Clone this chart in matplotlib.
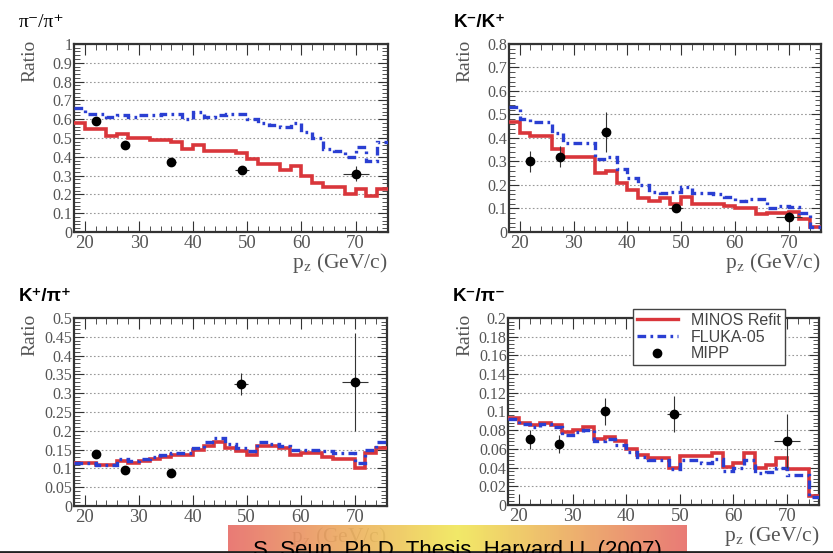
import numpy as np
import matplotlib.pyplot as plt
from matplotlib.ticker import MultipleLocator, AutoMinorLocator, FuncFormatter
from matplotlib.colors import LinearSegmentedColormap
from matplotlib.lines import Line2D

plt.rcParams['font.family'] = ['Liberation Serif', 'DejaVu Serif']
plt.rcParams['mathtext.fontset'] = 'stix'

# 2 GeV/c bins from 18 to 76
edges = [18, 20, 22, 24, 26, 28, 30, 32, 34, 36, 38, 40, 42, 44, 46, 48, 50,
         52, 54, 56, 58, 60, 62, 64, 66, 68, 70, 72, 74, 76]

# pi-/pi+
minos_pipi = [0.58, 0.55, 0.55, 0.51, 0.52, 0.50, 0.50, 0.49, 0.49, 0.48, 0.44, 0.46, 0.43, 0.43, 0.43,
              0.42, 0.39, 0.36, 0.36, 0.33, 0.35, 0.30, 0.26, 0.24, 0.24, 0.20, 0.23, 0.19, 0.23]
fluka_pipi = [0.66, 0.63, 0.63, 0.61, 0.62, 0.61, 0.62, 0.62, 0.63, 0.63, 0.60, 0.64, 0.61, 0.62, 0.63,
              0.63, 0.60, 0.58, 0.57, 0.56, 0.58, 0.53, 0.50, 0.44, 0.43, 0.40, 0.45, 0.38, 0.48]
# K-/K+
minos_kk = [0.47, 0.42, 0.41, 0.41, 0.355, 0.32, 0.32, 0.32, 0.25, 0.26, 0.21, 0.18, 0.145, 0.13, 0.145,
            0.12, 0.15, 0.12, 0.12, 0.12, 0.11, 0.10, 0.10, 0.075, 0.08, 0.08, 0.085, 0.055, 0.02]
fluka_kk = [0.53, 0.48, 0.47, 0.47, 0.42, 0.38, 0.38, 0.38, 0.31, 0.32, 0.27, 0.23, 0.20, 0.17, 0.165,
            0.17, 0.19, 0.165, 0.165, 0.16, 0.15, 0.13, 0.14, 0.14, 0.10, 0.11, 0.105, 0.08, 0.02]
# K+/pi+
minos_kpi = [0.115, 0.115, 0.11, 0.11, 0.12, 0.115, 0.12, 0.125, 0.13, 0.135, 0.135, 0.15, 0.16, 0.17, 0.155,
             0.145, 0.135, 0.16, 0.16, 0.155, 0.135, 0.14, 0.14, 0.13, 0.125, 0.125, 0.10, 0.14, 0.155]
fluka_kpi = [0.115, 0.115, 0.11, 0.11, 0.125, 0.12, 0.125, 0.13, 0.135, 0.14, 0.14, 0.155, 0.17, 0.18, 0.165,
             0.155, 0.145, 0.17, 0.165, 0.16, 0.15, 0.15, 0.15, 0.145, 0.14, 0.14, 0.115, 0.15, 0.17]
# K-/pi-
minos_kmpi = [0.093, 0.088, 0.085, 0.088, 0.085, 0.078, 0.08, 0.083, 0.07, 0.073, 0.068, 0.06, 0.053, 0.05, 0.05,
              0.04, 0.052, 0.052, 0.052, 0.055, 0.041, 0.045, 0.055, 0.04, 0.043, 0.05, 0.038, 0.038, 0.01]
fluka_kmpi = [0.092, 0.087, 0.083, 0.087, 0.083, 0.075, 0.078, 0.08, 0.068, 0.071, 0.064, 0.057, 0.051, 0.048, 0.048,
              0.038, 0.048, 0.048, 0.045, 0.049, 0.036, 0.04, 0.048, 0.034, 0.035, 0.04, 0.032, 0.032, 0.008]

# MIPP data points
mipp_x = [22, 27.5, 36, 49, 70]
mipp_xerr = [0.5, 0.5, 0.8, 1.3, 2.4]
mipp_pipi = [0.59, 0.465, 0.37, 0.33, 0.31]
mipp_pipi_err = [0.02, 0.015, 0.01, 0.015, 0.04]
mipp_kk = [0.30, 0.32, 0.425, 0.10, 0.065]
mipp_kk_err = [0.045, 0.045, 0.085, 0.015, 0.02]
mipp_kpi = [0.138, 0.095, 0.087, 0.325, 0.33]
mipp_kpi_err = [0.005, 0.004, 0.004, 0.03, 0.13]
mipp_kmpi = [0.07, 0.065, 0.10, 0.097, 0.068]
mipp_kmpi_err = [0.01, 0.01, 0.014, 0.019, 0.029]

red = '#d9363b'
blue = '#2a3fd2'
grey = '#555555'
dashdot = (0, (2.6, 1.3, 0.8, 1.3))

fig = plt.figure(figsize=(8.33, 5.53), dpi=100)


def panel(rect, minos, fluka, my, myerr, ymax, ymaj, title, tfont):
    ax = fig.add_axes(rect)
    ax.stairs(minos, edges, baseline=None, color=red, lw=2.6, zorder=3)
    ax.stairs(fluka, edges, baseline=None, color=blue, lw=2.4, ls=dashdot, zorder=4)
    ax.errorbar(mipp_x, my, xerr=mipp_xerr, yerr=myerr, fmt='o', color='black', ms=6,
                ecolor='#333333', elinewidth=0.8, capsize=0, zorder=5)
    ax.set_xlim(18, 76)
    ax.set_ylim(0, ymax)
    ax.xaxis.set_major_locator(MultipleLocator(10))
    ax.xaxis.set_minor_locator(MultipleLocator(2))
    ax.yaxis.set_major_locator(MultipleLocator(ymaj))
    ax.yaxis.set_minor_locator(AutoMinorLocator(5))
    ax.yaxis.set_major_formatter(FuncFormatter(lambda v, p: '%g' % round(v, 3)))
    ax.tick_params(which='both', direction='in', top=True, right=True, colors='#333333',
                   labelcolor=grey)
    ax.tick_params(axis='y', which='major', length=7, labelsize=11.5, pad=1)
    ax.tick_params(axis='y', which='minor', length=4)
    ax.tick_params(axis='x', which='major', length=8, labelsize=13.5, pad=2)
    ax.tick_params(axis='x', which='minor', length=4)
    ax.grid(axis='y', which='major', ls=(0, (1.5, 2)), color='#999999', lw=0.8)
    for s in ax.spines.values():
        s.set_linewidth(1.6)
        s.set_color('#333333')
    ax.text(-0.14, 1.02, 'Ratio', rotation=90, ha='center', va='top', transform=ax.transAxes,
            fontsize=14, color=grey)
    ax.text(1.0, -0.165, r'p$_{\rm z}$ (GeV/c)', ha='right', va='center', transform=ax.transAxes,
            fontsize=15.5, color=grey)
    ax.text(-0.177, 1.115, title, ha='left', va='center', transform=ax.transAxes, **tfont)
    return ax


serif_t = dict(family=['Liberation Serif', 'DejaVu Serif'], fontsize=14)
sans_t = dict(family=['Liberation Sans', 'DejaVu Sans'], fontsize=13.5, fontweight='bold')

panel([0.0888, 0.5805, 0.377, 0.34], minos_pipi, fluka_pipi, mipp_pipi, mipp_pipi_err,
      1.0, 0.1, 'π⁻/π⁺', serif_t)
panel([0.611, 0.5805, 0.3745, 0.34], minos_kk, fluka_kk, mipp_kk, mipp_kk_err,
      0.8, 0.1, 'K⁻/K⁺', sans_t)
panel([0.0888, 0.085, 0.3758, 0.34], minos_kpi, fluka_kpi, mipp_kpi, mipp_kpi_err,
      0.5, 0.05, 'K⁺/π⁺', sans_t)
ax4 = panel([0.61, 0.087, 0.3735, 0.338], minos_kmpi, fluka_kmpi, mipp_kmpi, mipp_kmpi_err,
            0.2, 0.02, 'K⁻/π⁻', sans_t)

handles = [Line2D([], [], color=red, lw=2.4),
           Line2D([], [], color=blue, lw=2.4, ls=dashdot),
           Line2D([], [], color='black', marker='o', ls='none', ms=6)]
leg = ax4.legend(handles, ['MINOS Refit', 'FLUKA-05', 'MIPP'], loc='upper left',
                 bbox_to_anchor=(0.40, 1.048), borderaxespad=0, fancybox=False, framealpha=1,
                 edgecolor='#444444', borderpad=0.25, labelspacing=0.1, handlelength=2.6,
                 handletextpad=0.8, prop={'family': 'Liberation Sans', 'size': 11.5})
leg.get_frame().set_linewidth(1.0)
for t in leg.get_texts():
    t.set_color('#444444')
leg.set_zorder(10)

# citation banner
bax = fig.add_axes([228 / 833, 0, (687 - 228) / 833, 28 / 553])
cmap = LinearSegmentedColormap.from_list('banner', ['#e8716b', '#f1e85c', '#e8716b'])
bax.imshow(np.linspace(0, 1, 256)[None, :], aspect='auto', cmap=cmap, alpha=0.93,
           extent=[0, 1, 0, 1])
bax.set_axis_off()
fig.text(457 / 833, -3 / 553, 'S. Seun, Ph.D. Thesis, Harvard U. (2007)', ha='center',
         va='baseline', fontsize=16, family=['Liberation Sans', 'DejaVu Sans'], color='black')
fig.add_artist(Line2D([0, 1], [1.5 / 553, 1.5 / 553], color='#222222', lw=2))

fig.savefig('out.png', dpi=100)
